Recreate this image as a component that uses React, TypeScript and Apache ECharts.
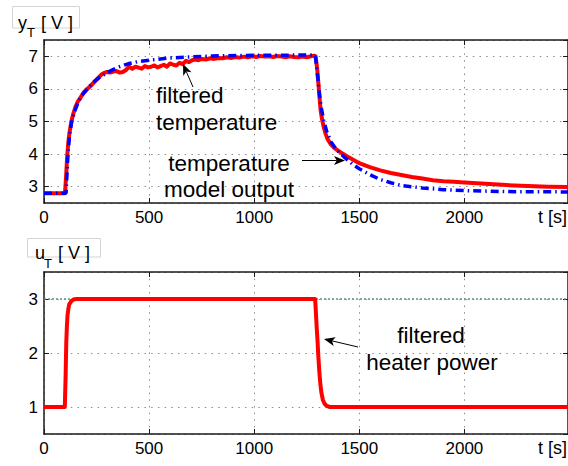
import { useEffect, useRef } from 'react';
import * as echarts from 'echarts';

const T_MAX = 2493;

// filtered temperature (measured), [s] and [V]
const tempTime = [
  0, 50, 98, 100, 105, 110, 115, 120, 130, 140, 150, 160, 175, 190, 200, 215, 230, 245, 260, 275,
  290, 300, 315, 330, 345, 360, 375, 390, 405, 420, 435, 450, 465, 480, 495, 510, 525, 540, 555, 570,
  585, 600, 615, 630, 645, 660, 675, 690, 705, 720, 735, 750, 770, 790, 810, 830, 850, 870, 890, 910,
  930, 950, 970, 990, 1010, 1030, 1050, 1070, 1090, 1110, 1130, 1150, 1170, 1190, 1210, 1230, 1250, 1270, 1285, 1292,
  1300, 1305, 1310, 1316, 1322, 1330, 1340, 1350, 1365, 1380, 1400, 1420, 1450, 1500, 1550, 1600, 1650, 1700, 1750, 1800,
  1850, 1900, 1950, 2000, 2100, 2200, 2300, 2400, 2493,
];
const tempValues = [
  2.8, 2.8, 2.8, 2.82, 3.3, 3.9, 4.3, 4.6, 5.0, 5.25, 5.45, 5.6, 5.75, 5.9, 5.97, 6.05, 6.15, 6.25, 6.35, 6.45,
  6.5, 6.52, 6.5, 6.53, 6.55, 6.5, 6.52, 6.58, 6.68, 6.62, 6.68, 6.65, 6.62, 6.7, 6.66, 6.68, 6.72, 6.66, 6.7, 6.74,
  6.68, 6.78, 6.74, 6.72, 6.8, 6.76, 6.86, 6.82, 6.88, 6.9, 6.88, 6.92, 6.9, 6.94, 6.92, 6.95, 6.94, 6.97, 6.95, 6.98,
  6.96, 6.99, 6.97, 7.0, 6.98, 7.01, 6.99, 7.0, 6.98, 7.01, 6.99, 6.97, 7.0, 6.98, 6.97, 6.99, 6.97, 7.0, 7.02, 7.0,
  6.6, 6.2, 5.8, 5.35, 5.1, 4.85, 4.62, 4.45, 4.3, 4.2, 4.1, 4.02, 3.9, 3.72, 3.6, 3.5, 3.42, 3.36, 3.3, 3.25,
  3.2, 3.17, 3.15, 3.13, 3.09, 3.05, 3.02, 3.0, 2.99,
];

// temperature model output
const modelTime = [
  0, 105, 110, 115, 122, 132, 145, 160, 180, 200, 230, 265, 300, 350, 400, 450, 500, 600, 700, 800,
  1000, 1290, 1295, 1305, 1312, 1320, 1330, 1345, 1365, 1390, 1410, 1430, 1470, 1500, 1550, 1600, 1650, 1700, 1800, 1900,
  2000, 2200, 2493,
];
const modelValues = [
  2.8, 2.8, 3.5, 4.1, 4.6, 5.0, 5.3, 5.55, 5.8, 5.95, 6.18, 6.36, 6.5, 6.66, 6.77, 6.84, 6.88, 6.95, 6.98, 7.01,
  7.03, 7.04, 6.8, 6.2, 5.75, 5.4, 5.05, 4.7, 4.38, 4.15, 4.02, 3.9, 3.68, 3.55, 3.37, 3.22, 3.12, 3.04, 2.96, 2.91,
  2.88, 2.85, 2.84,
];

// filtered heater power
const heaterTime = [
  0, 99, 100, 103, 106, 109, 112, 116, 120, 130, 140, 155, 1290, 1293, 1297, 1301, 1305, 1310, 1315, 1320,
  1327, 1335, 1345, 1360, 2493,
];
const heaterValues = [
  1, 1, 1, 1.6, 2.2, 2.5, 2.7, 2.82, 2.9, 2.96, 2.99, 3.0, 3.0, 2.8, 2.5, 2.25, 1.95, 1.65, 1.42, 1.26,
  1.13, 1.06, 1.02, 1.0, 1.0,
];

// heater power reference level
const refTime = [0, T_MAX];
const refValues = [3, 3];

const FONT = '"Liberation Sans", Arial, Helvetica, sans-serif';
const AX = '#1a1a1a';
const GRID_COLOR = '#8c8c8c';

const zip = (xs: number[], ys: number[]) => xs.map((x, i) => [x, ys[i]]);

function txt(x: number, baseline: number, text: string, size: number, align: string = 'left') {
  return {
    type: 'text',
    z: 100,
    x,
    y: baseline - 0.3465 * size,
    style: {
      text,
      fontSize: size,
      fontFamily: FONT,
      fill: '#000',
      textAlign: align,
      textVerticalAlign: 'middle',
    },
  };
}

function arrow(x1: number, y1: number, x2: number, y2: number) {
  const dx = x2 - x1;
  const dy = y2 - y1;
  const L = Math.hypot(dx, dy);
  const ux = dx / L;
  const uy = dy / L;
  const hl = 11;
  const hw = 4.5;
  const bx = x2 - ux * hl;
  const by = y2 - uy * hl;
  const nx = x2 - ux * hl * 0.75;
  const ny = y2 - uy * hl * 0.75;
  return [
    { type: 'line', z: 100, shape: { x1, y1, x2: nx, y2: ny }, style: { stroke: '#000', lineWidth: 1 } },
    {
      type: 'polygon',
      z: 100,
      shape: { points: [[x2, y2], [bx - uy * hw, by + ux * hw], [nx, ny], [bx + uy * hw, by - ux * hw]] },
      style: { fill: '#000' },
    },
  ];
}

function xAxes(gridIndex: number) {
  const line = { show: true, onZero: false, lineStyle: { color: AX, width: 1.5 } };
  const tick = { show: true, inside: true, length: 5, lineStyle: { color: AX, width: 1 } };
  return [
    {
      type: 'value', gridIndex, min: 0, max: T_MAX, interval: 500, position: 'bottom',
      axisLine: line, axisTick: tick,
      axisLabel: {
        margin: 6, fontSize: 17, color: '#000', fontFamily: FONT, showMaxLabel: false,
        formatter: (v: number) => (v % 500 === 0 ? String(v) : ''),
      },
      splitLine: { show: true, lineStyle: { color: GRID_COLOR, type: [1.5, 5.2], width: 1 } },
    },
    {
      type: 'value', gridIndex, min: 0, max: T_MAX, interval: 500, position: 'top',
      axisLine: line, axisTick: tick, axisLabel: { show: false }, splitLine: { show: false },
    },
  ];
}

function yAxes(gridIndex: number, min: number, max: number, splitNumber: number) {
  const line = { show: true, onZero: false, lineStyle: { color: AX, width: 1.5 } };
  const tick = { show: true, inside: true, length: 5, lineStyle: { color: AX, width: 1 } };
  return [
    {
      type: 'value', gridIndex, min, max, splitNumber, position: 'left',
      axisLine: line, axisTick: tick,
      axisLabel: {
        margin: 6, fontSize: 17, color: '#000', fontFamily: FONT, showMinLabel: false, showMaxLabel: false,
        formatter: (v: number) => (Number.isInteger(v) ? String(v) : ''),
      },
      splitLine: { show: true, lineStyle: { color: GRID_COLOR, type: [1.5, 5.2], width: 1 } },
    },
    {
      type: 'value', gridIndex, min, max, splitNumber, position: 'right',
      axisLine: line, axisTick: tick, axisLabel: { show: false }, splitLine: { show: false },
    },
  ];
}

export default function App() {
  const ref = useRef<HTMLDivElement>(null);
  useEffect(() => {
    if (!ref.current) return;
    const chart = echarts.init(ref.current, null, { renderer: 'svg' });
    chart.setOption({
      animation: false,
      backgroundColor: '#fff',
      grid: [
        { left: 44, top: 40, width: 527, height: 163 },
        { left: 44, top: 272, width: 527, height: 162 },
      ],
      xAxis: [...xAxes(0), ...xAxes(1)],
      yAxis: [...yAxes(0, 2.5, 7.5, 5), ...yAxes(1, 0.5, 3.5, 3)],
      series: [
        {
          name: 'filtered temperature', type: 'line', xAxisIndex: 0, yAxisIndex: 0,
          data: zip(tempTime, tempValues), showSymbol: false, symbol: 'none',
          lineStyle: { color: '#ff0000', width: 4, join: 'round' },
        },
        {
          name: 'temperature model output', type: 'line', xAxisIndex: 0, yAxisIndex: 0,
          data: zip(modelTime, modelValues), showSymbol: false, symbol: 'none',
          lineStyle: { color: '#0000ff', width: 3.5, type: [8, 4, 1.5, 4] },
        },
        {
          name: 'reference', type: 'line', xAxisIndex: 2, yAxisIndex: 2,
          data: zip(refTime, refValues), showSymbol: false, symbol: 'none',
          lineStyle: { color: '#5e9282', width: 1.5, type: [2, 2] },
        },
        {
          name: 'filtered heater power', type: 'line', xAxisIndex: 2, yAxisIndex: 2,
          data: zip(heaterTime, heaterValues), showSymbol: false, symbol: 'none',
          lineStyle: { color: '#ff0000', width: 4, join: 'round' },
        },
      ],
      graphic: [
        { type: 'rect', z: 90, shape: { x: 12.5, y: 6.5, width: 67, height: 21.5 }, style: { fill: 'none', stroke: '#d4d4d4', lineWidth: 1 } },
        txt(18, 29.5, 'y', 18),
        txt(27, 37, 'T', 13),
        txt(41, 29.5, '[ V ]', 18),
        { type: 'rect', z: 90, shape: { x: 27.5, y: 238.5, width: 73, height: 18.5 }, style: { fill: 'none', stroke: '#d4d4d4', lineWidth: 1 } },
        txt(35, 259.5, 'u', 18),
        txt(44, 268, 'T', 13),
        txt(58, 259.5, '[ V ]', 18),
        txt(567, 223, 't [s]', 18, 'right'),
        txt(567, 454, 't [s]', 18, 'right'),
        txt(156, 103, 'filtered', 22.5),
        txt(156, 130, 'temperature', 22.5),
        txt(229, 171, 'temperature', 22.5, 'center'),
        txt(229, 197, 'model output', 22.5, 'center'),
        txt(431, 343, 'filtered', 22.5, 'center'),
        txt(432, 370, 'heater power', 22.5, 'center'),
        ...arrow(193, 87, 183, 64),
        ...arrow(302, 160.5, 345, 160.5),
        ...arrow(358, 347, 324, 339),
      ],
    });
    return () => chart.dispose();
  }, []);
  return (
    <div
      ref={ref}
      style={{ position: 'fixed', left: 0, top: 0, width: 568, height: 466, background: '#fff' }}
    />
  );
}
